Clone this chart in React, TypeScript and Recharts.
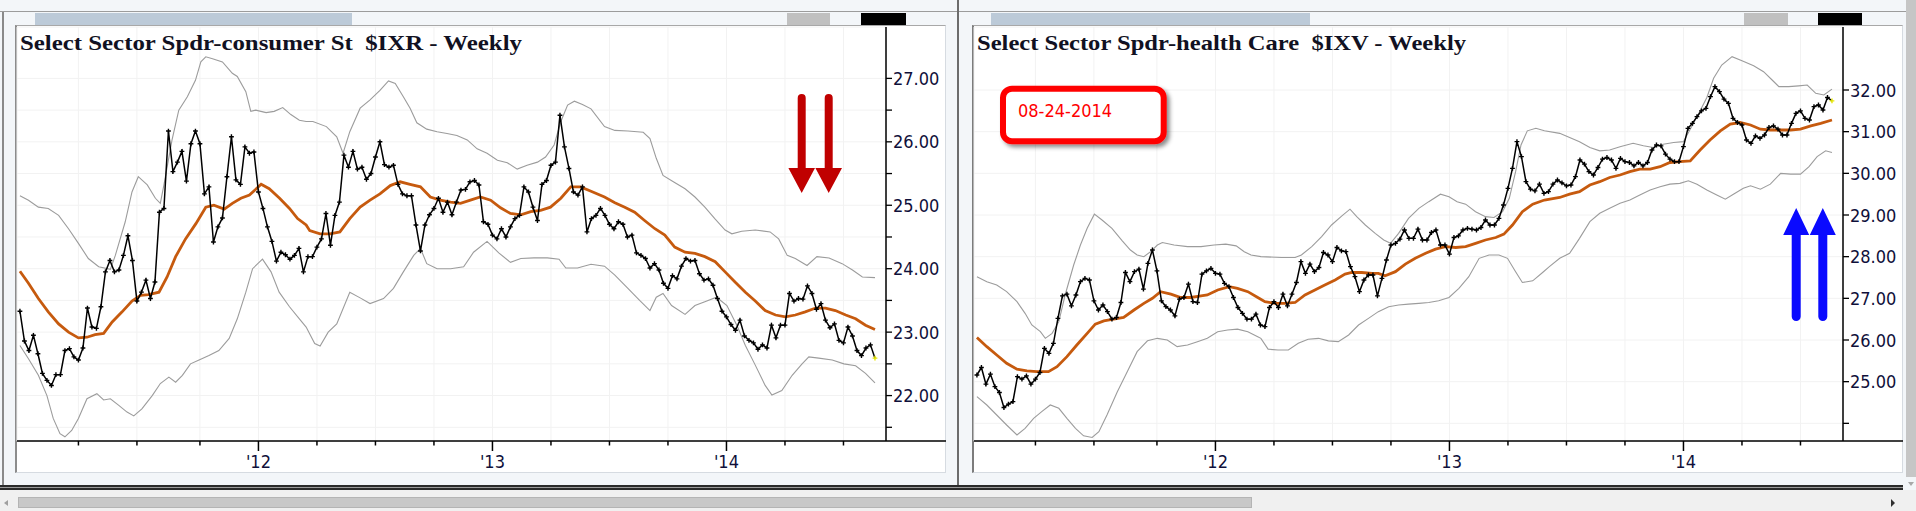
import React from 'react';
import { LineChart, Line, XAxis, YAxis, CartesianGrid } from 'recharts';

// Weekly closes; week 0 = week of 31 Dec 2010, last week = 22 Aug 2014
const ixrClose = [
  23.33, 22.86, 22.71, 22.95, 22.66, 22.35, 22.24, 22.16, 22.33, 22.33,
  22.71, 22.74, 22.61, 22.56, 22.75, 23.38, 23.08, 23.06, 23.40, 23.95,
  24.13, 23.95, 23.98, 24.21, 24.52, 24.13, 23.49, 23.63, 23.82, 23.53,
  23.79, 24.89, 24.95, 26.17, 25.53, 25.68, 25.85, 25.38, 25.97, 26.17,
  25.97, 25.18, 25.29, 24.42, 24.66, 24.80, 25.45, 26.08, 25.40, 25.33,
  25.92, 25.82, 25.84, 25.21, 24.95, 24.66, 24.43, 24.12, 24.26, 24.22,
  24.15, 24.21, 24.32, 23.95,
  24.19, 24.19, 24.34, 24.47, 24.87, 24.37, 24.84, 25.05, 25.79, 25.60,
  25.85, 25.57, 25.60, 25.41, 25.50, 25.76, 26.00, 25.64, 25.60, 25.63,
  25.33, 25.18, 25.15, 25.15, 24.69, 24.28, 24.69, 24.85, 24.95, 25.11,
  24.89, 25.05, 24.85, 25.05, 25.24, 25.25, 25.37, 25.39, 25.32, 24.74,
  24.70, 24.53, 24.47, 24.63, 24.50, 24.66, 24.79, 24.84, 25.29, 25.21,
  24.97, 24.76, 25.33, 25.39, 25.63, 25.68, 26.42, 25.92, 25.58, 25.21,
  25.16, 25.29, 24.58, 24.79,
  24.84, 24.95, 24.84, 24.70, 24.63, 24.74, 24.70, 24.50, 24.53,
  24.25, 24.21, 24.16, 24.01, 24.08, 23.98, 23.77, 23.69, 23.89, 23.84,
  24.04, 24.16, 24.12, 24.13, 23.92, 23.82, 23.84, 23.74, 23.53, 23.33,
  23.24, 23.12, 23.03, 23.19, 22.94, 22.87, 22.83, 22.73, 22.80, 22.75,
  23.11, 22.91, 23.11, 23.11, 23.61, 23.49, 23.53, 23.52, 23.73, 23.61,
  23.36, 23.45, 23.19, 23.07, 23.13, 22.87, 22.83, 23.08, 22.94, 22.71,
  22.63, 22.75, 22.80, 22.59,
];

const ixvClose = [
  25.16, 25.34, 24.94, 25.18, 24.88, 24.74, 24.38, 24.46, 24.52, 25.12,
  25.06, 25.14, 24.94, 25.06, 25.22, 25.80, 25.68, 25.92, 26.52, 27.06,
  27.10, 26.82, 27.08, 27.40, 27.48, 27.44, 26.94, 26.72, 26.84, 26.68,
  26.50, 26.54, 26.90, 27.62, 27.40, 27.64, 27.70, 27.22, 27.84, 28.16,
  27.66, 26.94, 26.80, 26.72, 26.58, 26.98, 27.02, 27.34, 26.92, 26.90,
  27.58, 27.66, 27.72, 27.60, 27.58, 27.36, 27.28, 27.02, 26.78, 26.64,
  26.50, 26.50, 26.62, 26.36,
  26.32, 26.78, 26.92, 26.78, 27.10, 26.82, 27.10, 27.38, 27.88, 27.60,
  27.82, 27.64, 27.74, 28.10, 28.04, 27.88, 28.22, 28.14, 28.12, 27.76,
  27.52, 27.16, 27.44, 27.56, 27.56, 27.06, 27.48, 27.92, 28.28, 28.32,
  28.42, 28.64, 28.44, 28.44, 28.66, 28.40, 28.40, 28.58, 28.64, 28.28,
  28.28, 28.06, 28.46, 28.50, 28.64, 28.68, 28.66, 28.64, 28.70, 28.88,
  28.76, 28.76, 28.92, 29.24, 29.64, 30.12, 30.76, 30.40, 29.80, 29.62,
  29.58, 29.74, 29.52, 29.56,
  29.74, 29.84, 29.77, 29.70, 29.72, 29.92, 30.32, 30.22, 30.04,
  29.96, 30.14, 30.34, 30.38, 30.32, 30.12, 30.36, 30.28, 30.26, 30.18,
  30.26, 30.18, 30.26, 30.56, 30.68, 30.66, 30.46, 30.34, 30.28, 30.28,
  30.64, 31.08, 31.20, 31.36, 31.50, 31.56, 31.84, 32.08, 31.96, 31.78,
  31.68, 31.32, 31.22, 31.16, 30.80, 30.72, 30.90, 30.84, 30.92, 31.10,
  31.14, 31.06, 30.92, 30.92, 31.20, 31.44, 31.50, 31.32, 31.28, 31.60,
  31.64, 31.52, 31.82, 31.74,
];

// [week, value] readings of the moving average and the bands
const ixrSma: [number, number][] = [
  [0, 23.96], [1.9, 23.77], [4.1, 23.53], [6.3, 23.32], [8.6, 23.13], [10.8, 23.0], [13.0, 22.91], [14.9, 22.92],
  [16.7, 22.96], [18.6, 22.98], [20.5, 23.16], [22.7, 23.32], [24.9, 23.49], [26.8, 23.58], [28.6, 23.59], [30.9, 23.63],
  [32.7, 23.87], [34.6, 24.19], [36.8, 24.47], [39.1, 24.71], [41.3, 24.97], [43.1, 25.0], [45.4, 24.94], [47.2, 25.03],
  [49.1, 25.11], [51.0, 25.16], [53.6, 25.33], [55.4, 25.26], [57.7, 25.11], [59.9, 24.95], [61.7, 24.79], [63.6, 24.69],
  [64.4, 24.6], [66.7, 24.55], [68.9, 24.55], [71.1, 24.58], [73.3, 24.79], [75.6, 24.97], [77.8, 25.08], [80.0, 25.18],
  [82.3, 25.31], [84.5, 25.37], [86.7, 25.33], [89.0, 25.29], [91.2, 25.13], [93.4, 25.08], [95.7, 25.05], [97.9, 25.03],
  [100.1, 25.08], [102.3, 25.13], [104.6, 25.08], [106.8, 24.96], [109.0, 24.87], [111.3, 24.85], [113.5, 24.9], [115.7, 24.92],
  [117.9, 24.97], [120.2, 25.11], [122.4, 25.29], [124.6, 25.29], [126.9, 25.22], [129.9, 25.13], [132.2, 25.04],
  [134.4, 24.97], [136.6, 24.89], [138.8, 24.76], [141.1, 24.63], [143.3, 24.53], [145.5, 24.34], [147.8, 24.26], [150.0, 24.24],
  [152.2, 24.19], [154.5, 24.11], [156.7, 23.95], [158.9, 23.79], [161.2, 23.63], [163.4, 23.49], [165.6, 23.34], [167.9, 23.27],
  [170.1, 23.24], [172.3, 23.27], [174.5, 23.32], [176.8, 23.38], [179.0, 23.38], [181.2, 23.34], [183.5, 23.27], [185.7, 23.21],
  [187.9, 23.11], [190.0, 23.04],
];
const ixrUpper: [number, number][] = [
  [0, 25.15], [1.9, 25.08], [4.1, 24.97], [6.3, 24.95], [8.6, 24.84], [10.8, 24.63], [13.0, 24.4], [15.2, 24.16],
  [17.5, 24.03], [20.1, 23.99], [21.2, 24.21], [23.4, 24.74], [24.9, 25.21], [26.3, 25.45], [28.3, 25.32], [30.1, 25.11],
  [31.2, 25.03], [32.0, 25.32], [33.8, 26.03], [35.3, 26.5], [37.2, 26.71], [39.0, 26.97], [40.2, 27.26], [41.3, 27.34],
  [42.8, 27.31], [45.0, 27.26], [47.2, 27.08], [48.3, 27.03], [50.2, 26.79], [51.3, 26.48], [52.4, 26.5], [54.7, 26.46],
  [56.5, 26.48], [58.4, 26.54], [60.2, 26.43], [62.1, 26.34], [63.6, 26.32], [65.1, 26.32], [68.1, 26.24], [70.4, 26.08],
  [71.8, 25.82], [73.3, 26.16], [75.6, 26.53], [77.8, 26.66], [80.0, 26.81], [81.9, 26.96], [83.4, 26.92], [85.2, 26.71],
  [86.7, 26.53], [88.2, 26.3], [90.4, 26.2], [92.7, 26.16], [94.9, 26.13], [97.1, 26.1], [99.4, 26.03], [101.6, 25.89],
  [103.8, 25.82], [106.1, 25.71], [108.3, 25.67], [110.5, 25.57], [112.7, 25.63], [115.0, 25.68], [116.8, 25.76], [118.7, 25.95],
  [120.2, 26.32], [121.7, 26.58], [123.2, 26.64], [125.0, 26.59], [126.9, 26.52], [129.9, 26.24], [132.2, 26.18], [135.1, 26.17],
  [138.5, 26.15], [140.0, 26.05], [141.4, 25.74], [142.9, 25.47], [145.2, 25.37], [147.8, 25.26], [150.0, 25.13], [152.2, 24.97],
  [154.5, 24.78], [156.7, 24.61], [158.2, 24.55], [160.4, 24.59], [163.4, 24.61], [166.7, 24.58], [168.6, 24.47], [170.5, 24.21],
  [172.3, 24.16], [174.9, 24.05], [177.1, 24.19], [179.8, 24.17], [182.7, 24.08], [185.0, 23.98], [187.2, 23.87], [190.0, 23.86],
];
const ixrLower: [number, number][] = [
  [0, 22.79], [1.9, 22.58], [4.1, 22.32], [6.0, 22.0], [7.4, 21.64], [8.9, 21.4], [10.0, 21.35], [11.5, 21.45],
  [13.0, 21.64], [14.9, 21.95], [17.1, 22.03], [18.6, 21.93], [20.1, 21.95], [21.9, 21.85], [23.8, 21.74], [25.3, 21.68],
  [27.1, 21.79], [29.4, 22.0], [31.2, 22.19], [33.1, 22.29], [34.6, 22.21], [36.1, 22.32], [37.9, 22.5], [39.8, 22.56],
  [42.0, 22.63], [44.2, 22.71], [46.5, 22.9], [48.3, 23.21], [50.2, 23.63], [51.7, 24.0], [53.9, 24.15], [55.8, 23.95],
  [57.6, 23.63], [59.9, 23.4], [62.1, 23.21], [63.6, 23.08], [65.5, 22.82], [66.7, 22.78], [68.5, 23.0], [70.4, 23.13],
  [73.3, 23.63], [75.6, 23.54], [77.8, 23.45], [80.8, 23.53], [83.0, 23.69], [85.2, 23.95], [87.5, 24.21], [89.0, 24.32],
  [90.4, 24.08], [92.7, 24.0], [95.7, 24.0], [98.6, 24.03], [100.8, 24.26], [103.8, 24.43], [106.4, 24.25], [109.0, 24.1],
  [111.3, 24.16], [114.2, 24.17], [117.2, 24.17], [119.8, 24.15], [121.3, 24.01], [123.9, 24.01], [126.9, 24.07], [129.9, 24.04],
  [132.2, 23.9], [135.1, 23.69], [137.7, 23.5], [140.0, 23.34], [141.4, 23.55], [142.9, 23.61], [144.8, 23.42], [147.8, 23.28],
  [150.0, 23.42], [152.2, 23.48], [154.8, 23.55], [157.1, 23.42], [159.3, 23.11], [161.2, 22.79], [163.4, 22.48], [165.6, 22.16],
  [167.1, 22.01], [169.3, 22.08], [171.6, 22.32], [173.8, 22.5], [175.3, 22.61], [177.5, 22.59], [180.5, 22.56], [183.1, 22.5],
  [185.7, 22.47], [187.9, 22.35], [190.0, 22.2],
];

const ixvSma: [number, number][] = [
  [0, 26.06], [2.2, 25.84], [4.4, 25.64], [6.6, 25.44], [8.9, 25.3], [11.1, 25.26], [13.3, 25.24], [15.9, 25.24],
  [17.8, 25.36], [20.0, 25.6], [22.2, 25.88], [24.5, 26.16], [26.3, 26.38], [28.2, 26.46], [30.4, 26.5], [32.6, 26.54],
  [34.9, 26.72], [37.1, 26.88], [39.0, 27.0], [40.8, 27.16], [43.1, 27.1], [45.3, 27.02], [47.5, 27.02], [49.8, 27.06],
  [51.2, 27.08], [53.5, 27.2], [56.1, 27.28], [57.9, 27.24], [60.2, 27.16], [62.4, 27.02], [64.0, 26.92], [66.2, 26.88],
  [68.4, 26.88], [70.7, 26.9], [72.9, 27.08], [75.1, 27.2], [77.3, 27.32], [79.6, 27.44], [81.8, 27.58], [83.3, 27.62],
  [85.5, 27.62], [87.8, 27.6], [89.2, 27.6], [90.7, 27.54], [93.0, 27.64], [95.2, 27.82], [97.4, 27.96], [99.7, 28.08],
  [101.9, 28.18], [104.1, 28.24], [106.4, 28.22], [108.6, 28.24], [110.8, 28.32], [113.0, 28.4], [115.3, 28.46], [117.1, 28.54],
  [119.0, 28.76], [121.2, 29.08], [123.5, 29.26], [126.1, 29.36], [129.5, 29.42], [131.7, 29.5], [133.9, 29.56], [136.2, 29.72],
  [138.4, 29.8], [140.6, 29.9], [142.9, 29.96], [145.1, 30.04], [147.3, 30.1], [149.6, 30.1], [151.8, 30.16], [154.0, 30.26],
  [156.2, 30.28], [158.5, 30.3], [160.7, 30.56], [162.9, 30.8], [165.2, 31.02], [167.4, 31.18], [169.6, 31.22], [171.9, 31.16],
  [174.1, 31.06], [176.3, 31.04], [178.6, 31.04], [180.8, 31.04], [183.0, 31.06], [185.3, 31.14], [187.5, 31.2], [190.0, 31.28],
];
const ixvUpper: [number, number][] = [
  [0, 27.52], [2.2, 27.4], [4.4, 27.32], [6.6, 27.16], [8.9, 26.92], [10.7, 26.64], [12.2, 26.36], [14.1, 26.2],
  [15.2, 26.04], [16.7, 26.16], [18.2, 26.44], [19.6, 27.08], [21.5, 27.8], [23.0, 28.28], [24.5, 28.68], [26.1, 29.02],
  [27.8, 28.88], [30.0, 28.68], [32.3, 28.38], [34.1, 28.16], [35.6, 28.04], [37.1, 28.0], [38.6, 28.12], [40.1, 28.28],
  [41.2, 28.34], [43.8, 28.28], [46.8, 28.24], [49.8, 28.24], [52.7, 28.28], [55.3, 28.3], [57.6, 28.26], [59.4, 28.12],
  [60.9, 28.04], [63.1, 28.0], [67.7, 27.98], [70.7, 27.98], [72.1, 28.04], [74.4, 28.24], [76.6, 28.48], [78.8, 28.76],
  [81.1, 28.98], [82.9, 29.14], [84.4, 28.96], [86.3, 28.76], [88.5, 28.56], [90.4, 28.4], [91.9, 28.32], [93.7, 28.56],
  [95.9, 28.92], [98.2, 29.16], [100.4, 29.32], [103.0, 29.5], [104.9, 29.44], [106.7, 29.32], [108.6, 29.26], [110.8, 29.08],
  [113.0, 28.96], [114.9, 28.94], [116.8, 29.08], [118.3, 29.4], [119.7, 30.04], [120.9, 30.68], [122.3, 31.02], [124.2, 31.08],
  [126.1, 31.02], [129.5, 30.96], [131.7, 30.86], [133.9, 30.76], [136.2, 30.62], [138.4, 30.54], [140.6, 30.56], [142.9, 30.64],
  [145.8, 30.72], [148.1, 30.66], [150.3, 30.62], [152.5, 30.7], [154.8, 30.74], [157.0, 30.76], [158.5, 31.06], [160.3, 31.42],
  [162.2, 31.82], [163.7, 32.28], [165.5, 32.6], [167.8, 32.8], [170.0, 32.7], [172.6, 32.58], [174.8, 32.44], [176.7, 32.24],
  [178.2, 32.08], [180.4, 32.08], [182.6, 32.1], [184.5, 32.12], [186.4, 31.92], [188.2, 31.88], [190.0, 32.02],
];
const ixvLower: [number, number][] = [
  [0, 24.64], [2.2, 24.44], [4.4, 24.2], [6.6, 23.96], [8.9, 23.72], [10.7, 23.88], [12.6, 24.12], [14.4, 24.28],
  [16.3, 24.44], [18.2, 24.36], [20.0, 24.12], [21.9, 23.88], [23.7, 23.7], [25.6, 23.66], [27.1, 23.8], [28.9, 24.2],
  [31.2, 24.76], [33.4, 25.24], [35.6, 25.72], [37.9, 25.98], [40.1, 26.04], [42.3, 26.0], [44.5, 25.84], [46.8, 25.88],
  [49.0, 25.96], [51.2, 26.04], [53.5, 26.2], [55.7, 26.24], [57.9, 26.26], [60.2, 26.2], [62.4, 26.08], [63.1, 26.04],
  [64.7, 25.78], [66.9, 25.76], [69.2, 25.76], [71.4, 25.92], [73.6, 26.02], [75.9, 26.04], [78.1, 25.98], [80.3, 25.96],
  [82.6, 26.12], [84.8, 26.36], [87.0, 26.52], [89.2, 26.68], [91.5, 26.8], [93.7, 26.84], [95.9, 26.86], [98.2, 26.88],
  [100.4, 26.9], [102.6, 26.94], [104.9, 27.02], [107.1, 27.24], [109.3, 27.52], [111.6, 27.96], [113.8, 28.04], [116.0, 28.04],
  [117.9, 27.96], [119.7, 27.64], [121.2, 27.38], [123.5, 27.42], [125.7, 27.62], [127.2, 27.76], [129.5, 27.96], [131.7, 28.08],
  [133.9, 28.44], [136.2, 28.84], [138.4, 29.04], [140.6, 29.16], [142.9, 29.28], [145.1, 29.36], [147.3, 29.48], [149.6, 29.6],
  [151.8, 29.68], [154.0, 29.74], [156.2, 29.76], [158.1, 29.82], [160.0, 29.74], [162.2, 29.6], [164.4, 29.48], [166.3, 29.38],
  [168.1, 29.5], [170.3, 29.64], [171.9, 29.7], [174.1, 29.62], [176.3, 29.74], [178.6, 30.0], [180.8, 29.98], [183.0, 29.98],
  [184.9, 30.16], [186.7, 30.4], [188.6, 30.54], [190.0, 30.5],
];

// first weekly bar of each quarter (Apr 2011 .. Jul 2014)
const quarterWeeks = [13, 26, 40, 53, 66, 79, 92, 105, 118, 131, 144, 157, 170, 183];
const yearLabels: Record<number, string> = { 53: "'12", 105: "'13", 157: "'14" };
const ixrTicks = [21.5, 22, 22.5, 23, 23.5, 24, 24.5, 25, 25.5, 26, 26.5, 27];
const ixvTicks = [24, 25, 26, 27, 28, 29, 30, 31, 32];
const ixrTitle = 'Select Sector Spdr-consumer St  $IXR - Weekly';
const ixvTitle = 'Select Sector Spdr-health Care  $IXV - Weekly';
const stampText = '08-24-2014';

const tickFont = "'DejaVu Sans Condensed', 'DejaVu Sans', sans-serif";
const tickColor = '#10103a';
const serif = "'Liberation Serif', 'Times New Roman', serif";

const XTick = (props: any) => {
  const { x, y, payload } = props;
  const label = yearLabels[payload.value];
  return (
    <g>
      <line x1={x} x2={x} y1={y} y2={y + (label ? 10 : 4.5)} stroke="#000" strokeWidth={1.5} />
      {label ? (
        <text x={x} y={y + 27} textAnchor="middle" fontFamily={tickFont} fontStretch="condensed" fontSize={18} fill={tickColor}>
          {label}
        </text>
      ) : null}
    </g>
  );
};

const makeYTick = (showLabel: (v: number) => boolean) => (props: any) => {
  const { x, y, payload } = props;
  const v = payload.value as number;
  return (
    <g>
      <line x1={x} x2={x + 6} y1={y} y2={y} stroke="#000" strokeWidth={1.3} />
      {showLabel(v) ? (
        <text x={x + 7} y={y + 6.5} textAnchor="start" fontFamily={tickFont} fontStretch="condensed" fontSize={18} fill={tickColor}>
          {v.toFixed(2)}
        </text>
      ) : null}
    </g>
  );
};

const PlusDot = (p: any) => {
  const { cx, cy, index, lastIndex } = p;
  if (cx == null || cy == null) return <g />;
  const a = 2.4;
  const isLast = index === lastIndex;
  return (
    <path
      d={`M${cx - a},${cy}H${cx + a}M${cx},${cy - a}V${cy + a}`}
      stroke={isLast ? '#e6e600' : '#000'}
      strokeWidth={1.4}
      fill="none"
    />
  );
};

const toPts = (arr: [number, number][]) => arr.map(([w, v]) => ({ w, v }));

function Panel(props: {
  left: number;
  close: number[];
  sma: [number, number][];
  upper: [number, number][];
  lower: [number, number][];
  yDomain: [number, number];
  yTicks: number[];
  showLabel: (v: number) => boolean;
}) {
  const { left, close, sma, upper, lower, yDomain, yTicks, showLabel } = props;
  const data = close.map((v, i) => ({ w: i, v }));
  const last = close.length - 1;
  return (
    <div style={{ position: 'absolute', left, top: 0, width: 960, height: 480 }}>
      <LineChart width={960} height={480} data={data} margin={{ top: 27, left: 17, right: 0, bottom: 0 }}>
        <CartesianGrid stroke="#f2f2f2" strokeWidth={1} />
        <XAxis
          type="number"
          dataKey="w"
          domain={[-0.65, 192.45]}
          ticks={quarterWeeks}
          interval={0}
          allowDataOverflow
          height={39}
          tickSize={0}
          tickMargin={0}
          tickLine={false}
          axisLine={{ stroke: '#000', strokeWidth: 1.5 }}
          tick={(p: any) => <XTick {...p} />}
        />
        <YAxis
          orientation="right"
          type="number"
          domain={yDomain}
          ticks={yTicks}
          interval={0}
          allowDataOverflow
          width={74}
          tickSize={0}
          tickMargin={0}
          tickLine={false}
          axisLine={{ stroke: '#000', strokeWidth: 1.5 }}
          tick={makeYTick(showLabel)}
        />
        <Line data={toPts(upper)} dataKey="v" type="linear" stroke="#9c9c9c" strokeWidth={1.1} dot={false} isAnimationActive={false} />
        <Line data={toPts(lower)} dataKey="v" type="linear" stroke="#9c9c9c" strokeWidth={1.1} dot={false} isAnimationActive={false} />
        <Line data={toPts(sma)} dataKey="v" type="linear" stroke="#c65a0e" strokeWidth={2.8} dot={false} isAnimationActive={false} />
        <Line
          dataKey="v"
          type="linear"
          stroke="#000"
          strokeWidth={1.5}
          isAnimationActive={false}
          dot={(p: any) => <PlusDot key={`d${p.index}`} {...p} lastIndex={last} />}
        />
      </LineChart>
    </div>
  );
}

const downArrow = (cx: number) =>
  `M${cx - 4},168 V98 A4,4 0 0 1 ${cx + 4},98 V168 H${cx + 13.3} L${cx},193 L${cx - 13.3},168 Z`;
const upArrow = (cx: number) =>
  `M${cx},208 L${cx + 13},235 H${cx + 4.5} V316.5 A4.5,4.5 0 0 1 ${cx - 4.5},316.5 V235 H${cx - 13} Z`;

const abs = (l: number, t: number, w: number, h: number, extra: React.CSSProperties = {}): React.CSSProperties => ({
  position: 'absolute', left: l, top: t, width: w, height: h, ...extra,
});

export default function App() {
  return (
    <div style={{ position: 'fixed', left: 0, top: 0, width: 1916, height: 511, background: '#f3f6f9', overflow: 'hidden' }}>
      {/* window chrome */}
      <div style={abs(0, 11, 1906, 1, { background: '#9c9c9c' })} />
      <div style={abs(2, 12, 2, 476, { background: '#8a8a8a' })} />
      <div style={abs(957, 0, 2, 488, { background: '#6c6c6c' })} />
      <div style={abs(35, 13, 317, 12, { background: '#bccad8' })} />
      <div style={abs(991, 13, 319, 12, { background: '#bccad8' })} />
      <div style={abs(787, 13, 43, 12, { background: '#c0c0c0' })} />
      <div style={abs(1744, 13, 44, 12, { background: '#c0c0c0' })} />
      <div style={abs(861, 13, 45, 12, { background: '#000' })} />
      <div style={abs(1818, 13, 44, 12, { background: '#000' })} />
      <div style={abs(15, 25, 931, 448, { background: '#fff', borderLeft: '2px solid #8c8c8c', borderTop: '1px solid #a8a8a8', borderRight: '1px solid #d6dbe1', borderBottom: '1px solid #d6dbe1', boxSizing: 'border-box' })} />
      <div style={abs(972, 25, 931, 448, { background: '#fff', borderLeft: '2px solid #7c7c7c', borderTop: '1px solid #a8a8a8', borderRight: '1px solid #d6dbe1', borderBottom: '1px solid #d6dbe1', boxSizing: 'border-box' })} />
      <div style={abs(1906, 0, 10, 477, { background: '#c6c6c6' })} />
      <div style={abs(0, 485, 1903, 5, { background: 'linear-gradient(#2a2a2a 0 2px, #9a9a9a 2px 3px, #2a2a2a 3px 5px)' })} />
      <div style={abs(0, 490, 1916, 21, { background: '#f0f0f0' })} />
      <div style={abs(18, 497, 1234, 11, { background: '#c8c8c8', border: '1px solid #b4b4b4', boxSizing: 'border-box' })} />

      <Panel left={0} close={ixrClose} sma={ixrSma} upper={ixrUpper} lower={ixrLower} yDomain={[21.284, 27.81]} yTicks={ixrTicks} showLabel={(v) => Number.isInteger(v)} />
      <Panel left={957} close={ixvClose} sma={ixvSma} upper={ixvUpper} lower={ixvLower} yDomain={[23.576, 33.512]} yTicks={ixvTicks} showLabel={(v) => v >= 25} />

      <svg width={1916} height={511} style={{ position: 'absolute', left: 0, top: 0, pointerEvents: 'none' }}>
        <defs>
          <filter id="boxShadow" x="-10%" y="-20%" width="130%" height="150%">
            <feDropShadow dx="3" dy="3" stdDeviation="2" floodColor="#000" floodOpacity="0.45" />
          </filter>
        </defs>
        <line x1={886} x2={946} y1={441} y2={441} stroke="#000" strokeWidth={1.5} />
        <line x1={1843} x2={1903} y1={441} y2={441} stroke="#000" strokeWidth={1.5} />
        <text x={20} y={50} fontFamily={serif} fontWeight="bold" fontSize={22} fill="#111122" textLength={502} lengthAdjust="spacingAndGlyphs" style={{ whiteSpace: 'pre' }}>
          {ixrTitle}
        </text>
        <text x={977} y={50} fontFamily={serif} fontWeight="bold" fontSize={22} fill="#111122" textLength={489} lengthAdjust="spacingAndGlyphs" style={{ whiteSpace: 'pre' }}>
          {ixvTitle}
        </text>
        <path d={downArrow(801.7)} fill="#c00000" />
        <path d={downArrow(828.7)} fill="#c00000" />
        <path d={upArrow(1796.2)} fill="#0a0aff" />
        <path d={upArrow(1822.8)} fill="#0a0aff" />
        <rect x={1003} y={88.7} width={160.7} height={52.6} rx={9} fill="#fff" stroke="#ff0000" strokeWidth={6} filter="url(#boxShadow)" />
        <text x={1018} y={116.7} fontFamily={tickFont} fontStretch="condensed" fontSize={18} fill="#ff0000">
          {stampText}
        </text>
        <path d="M8,500 L4,503 L8,506 Z" fill="#a0a0a0" />
        <path d="M1891,499 L1895,503 L1891,507 Z" fill="#303030" />
        <path d="M1908,482 L1914,482 L1911,486 Z" fill="#a8a8a8" />
      </svg>
    </div>
  );
}
